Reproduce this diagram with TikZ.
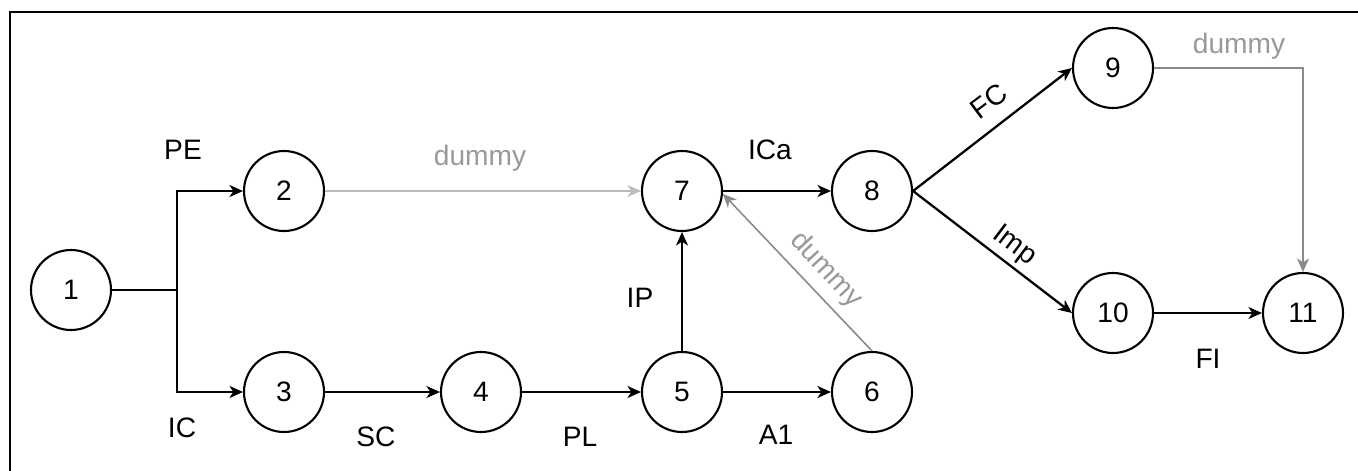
\documentclass[tikz,border=0pt]{standalone}
\usepackage{fontspec}
\setmainfont{Liberation Sans}
\usepackage{tikz}
\usetikzlibrary{shapes}
\usetikzlibrary{arrows.meta}
\usetikzlibrary{calc}
\definecolor{dumline}{HTML}{BBBBBB}
\definecolor{dumdark}{HTML}{8A8A8A}
\definecolor{dumtext}{HTML}{999999}

\begin{document}
\begin{tikzpicture}[
  x=0.2mm, y=-0.2mm,
  >={Stealth[length=2.7mm,width=2.4mm,inset=0.8mm]},
  font=\fontsize{16}{19}\selectfont,
  ev/.style={
    circle,
    draw=black,
    line width=1.2pt,
    minimum size=16mm,
    inner sep=0pt},
  dep/.style ={
    ->,line width=1.3pt
  },
  dum/.style={
    ->,line width=0.9pt,draw=#1},
  lbl/.style={
    inner sep=0pt},
  frame/.style={
    line width=1.6pt},
]

  \useasboundingbox (0,0) rectangle (1358,471);
  \draw[frame] (10,471) -- (10,12) -- (1358,12);

  % Events
  \foreach \i/\x/\y in {1/71/290, 2/284/191, 3/284/392, 4/481/392,
      5/682/392, 6/872/392, 7/682/191, 8/872/191,
      9/1113/68, 10/1113/313, 11/1303/313} {
    \node[ev] (ev_\i) at (\x,\y) {\i};
  }

  % Activities
  \coordinate (fork) at (177,290);
  \draw[line width=1.3pt] (ev_1.east) -- (fork);
  \draw[dep] (fork) |- (ev_2.west);
  \draw[dep] (fork) |- (ev_3.west);

  \foreach \start/\stop in {3/4, 4/5, 5/6, 7/8, 10/11} {
    \draw[dep] (ev_\start.east) -- (ev_\stop.west);
  }
  \draw[dep] (ev_5.north) -- (ev_7.south);
  \draw[dep] (ev_8.east) -- (ev_9.west);
  \draw[dep] (ev_8.east) -- (ev_10.west);

  % Dummy activities
  \draw[dum={dumline}] (ev_2.east) -- (ev_7.west);
  \draw[dum={dumdark}] (ev_6.north) -- (ev_7.-4);
  \draw[dum={dumdark}] (ev_9.east) -| (ev_11.north);

  % Labels
  \node[lbl] (l_pe)  at (183,150) {PE};
  \node[lbl] (l_ic)  at (182,428) {IC};
  \node[lbl] (l_sc)  at (376,437) {SC};
  \node[lbl] (l_pl)  at (580,437) {PL};
  \node[lbl] (l_a1)  at (776,435) {A1};
  \node[lbl] (l_ip)  at (640,298) {IP};
  \node[lbl] (l_ica) at (770,150) {ICa};
  \node[lbl] (l_fi)  at (1208,359) {FI};
  \node[lbl,rotate=37]  (l_fc)  at (989,101) {FC};
  \node[lbl,rotate=-37] (l_imp) at (1014,246) {Imp};

  \node[lbl,text=dumtext] (l_d1) at (480,158) {dummy};
  \node[lbl,text=dumtext,rotate=-47] (l_d2) at (826,270) {dummy};
  \node[lbl,text=dumtext] (l_d3) at (1239,46) {dummy};

\end{tikzpicture}
\end{document}
